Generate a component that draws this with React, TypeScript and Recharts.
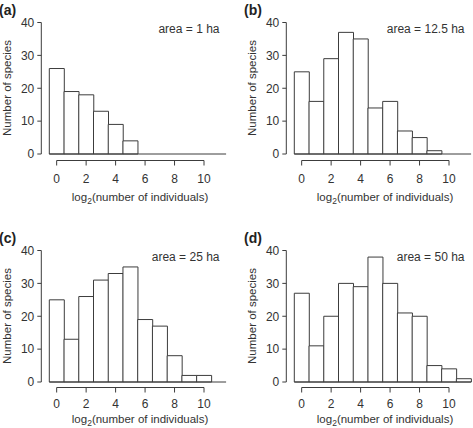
import React from 'react';
import { BarChart, Bar, XAxis, YAxis } from 'recharts';

// histogram bins (log2 classes) and species counts per sampled area
const bins = ['0', '1', '2', '3', '4', '5', '6', '7', '8', '9', '10', '11'];
const countsA = [26, 19, 18, 13, 9, 4, 0, 0, 0, 0, 0, 0];
const countsB = [25, 16, 29, 37, 35, 14, 16, 7, 5, 1, 0, 0];
const countsC = [25, 13, 26, 31, 33, 35, 19, 17, 8, 2, 2, 0];
const countsD = [27, 11, 20, 30, 29, 38, 30, 21, 20, 5, 4, 1];

const panelLetters = ['(a)', '(b)', '(c)', '(d)'];
const areaLabels = ['area = 1 ha', 'area = 12.5 ha', 'area = 25 ha', 'area = 50 ha'];
const yTicks = [0, 10, 20, 30, 40];
const xTickLabels = ['0', '2', '4', '6', '8', '10'];

const FONT = '"Liberation Sans", Arial, Helvetica, sans-serif';
const LINE = '#3c3c3c';
const TEXT = '#333';

const W = 228;
const H = 228;
const margin = { top: 22.5, right: 1.9, bottom: 44, left: 11.3 };
const Y_W = 30;
const PAD = 8; // gap between y axis line and first bar
const unitPx = (W - margin.left - Y_W - margin.right - PAD) / bins.length;

// R-style x axis: detached line from first to last labelled tick,
// plus the histogram baseline under every bin (empty bins included)
const XTick = (props: any) => {
  const { x, y, payload, index, axisDy, labelDy } = props;
  const last = xTickLabels[xTickLabels.length - 1];
  const span = (bins.indexOf(last) - bins.indexOf(xTickLabels[0])) * unitPx;
  const show = xTickLabels.includes(payload.value);
  return (
    <g>
      {index === 0 && (
        <>
          <line x1={x - unitPx / 2} x2={x - unitPx / 2 + bins.length * unitPx} y1={y} y2={y} stroke={LINE} strokeWidth={1} />
          <line x1={x} x2={x + span} y1={y + axisDy} y2={y + axisDy} stroke={LINE} strokeWidth={1} />
        </>
      )}
      {show && (
        <>
          <line x1={x} x2={x} y1={y + axisDy} y2={y + axisDy + 5} stroke={LINE} strokeWidth={1} />
          <text x={x} y={y + labelDy} textAnchor="middle" fill={TEXT} fontSize={12}>
            {payload.value}
          </text>
        </>
      )}
    </g>
  );
};

function Panel({ counts, letter, area, left, top, compact }: any) {
  const data = bins.map((b, i) => ({ bin: b, count: counts[i] }));
  const axisDy = compact ? 5.5 : 6.5;
  const labelDy = compact ? 26 : 29;
  const xTitleTop = compact ? 186.3 : 191.6;
  return (
    <div style={{ position: 'absolute', left, top, width: W, height: H }}>
      <BarChart width={W} height={H} data={data} margin={margin} barCategoryGap={0} barGap={0}>
        <XAxis
          dataKey="bin"
          padding={{ left: PAD, right: 0 }}
          interval={0}
          axisLine={false}
          tickLine={false}
          tickSize={0}
          tickMargin={0}
          height={30}
          tick={<XTick axisDy={axisDy} labelDy={labelDy} />}
        />
        <YAxis
          domain={[0, 40]}
          ticks={yTicks}
          interval={0}
          width={Y_W}
          tickSize={4}
          tickMargin={3}
          axisLine={{ stroke: LINE }}
          tickLine={{ stroke: LINE }}
          tick={{ fill: TEXT, fontSize: 12 }}
        />
        <Bar dataKey="count" fill="#fff" stroke={LINE} strokeWidth={1} isAnimationActive={false} />
      </BarChart>
      <div style={{ position: 'absolute', left: -1, top: 3.1, fontSize: 14, fontWeight: 'bold', lineHeight: 1, color: '#222' }}>
        {letter}
      </div>
      <div style={{ position: 'absolute', right: W - 219.5, top: 23.1, fontSize: 12, lineHeight: 1, color: TEXT, whiteSpace: 'nowrap' }}>
        {area}
      </div>
      <div
        style={{
          position: 'absolute',
          left: 8,
          top: 88,
          fontSize: 11.5,
          lineHeight: 1,
          color: TEXT,
          whiteSpace: 'nowrap',
          transform: 'translate(-50%, -50%) rotate(-90deg)',
        }}
      >
        Number of species
      </div>
      <div
        style={{
          position: 'absolute',
          left: 140,
          top: xTitleTop,
          fontSize: 11.5,
          lineHeight: 1,
          color: TEXT,
          whiteSpace: 'nowrap',
          transform: 'translateX(-50%)',
        }}
      >
        log<span style={{ fontSize: 8.5, position: 'relative', top: 3 }}>2</span>(number of individuals)
      </div>
    </div>
  );
}

export default function App() {
  const allCounts = [countsA, countsB, countsC, countsD];
  return (
    <div
      style={{
        position: 'absolute',
        left: 0,
        top: 0,
        width: 473,
        height: 428,
        overflow: 'hidden',
        background: '#fff',
        fontFamily: FONT,
      }}
    >
      {allCounts.map((c, i) => (
        <Panel
          key={i}
          counts={c}
          letter={panelLetters[i]}
          area={areaLabels[i]}
          left={(i % 2) * 245}
          top={Math.floor(i / 2) * 228}
          compact={i >= 2}
        />
      ))}
    </div>
  );
}
